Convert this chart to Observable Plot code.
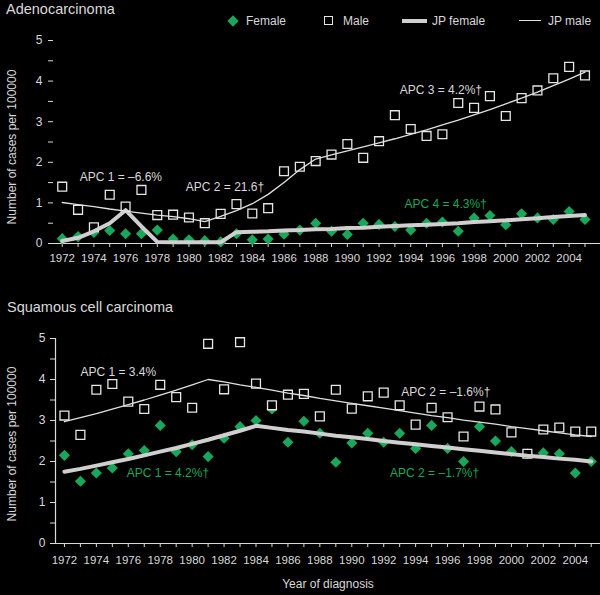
<!DOCTYPE html>
<html>
<head>
<meta charset="utf-8">
<script src="https://cdn.jsdelivr.net/npm/d3@7"></script>
<script src="https://cdn.jsdelivr.net/npm/@observablehq/plot@0.6"></script>
<style>
  body { margin: 0; background: #000; }
  #page {
    position: relative; width: 600px; height: 595px; overflow: hidden;
    background: #000; color: #d9d9d9;
    font-family: "Liberation Sans", Arial, sans-serif;
  }
  .abs { position: absolute; white-space: nowrap; }
  .title { font-size: 14.5px; line-height: 17px; }
  .leg { font-size: 12px; line-height: 16px; }
  svg { display: block; }
</style>
</head>
<body>
<div id="page">
  <div id="top" class="abs" style="left:0;top:0"></div>
  <div id="bottom" class="abs" style="left:0;top:290px"></div>
  <div class="abs title" style="left:6px;top:1px">Adenocarcinoma</div>
  <div class="abs title" style="left:7px;top:299px">Squamous cell carcinoma</div>
  <div class="abs" style="left:229px;top:17px;width:8px;height:8px;background:#19a75b;transform:rotate(45deg)"></div>
  <div class="abs leg" style="left:246px;top:13px">Female</div>
  <div class="abs" style="left:324px;top:16px;width:9px;height:9px;box-sizing:border-box;border:1.3px solid #e6e6e6"></div>
  <div class="abs leg" style="left:343px;top:13px">Male</div>
  <div class="abs" style="left:402px;top:19px;width:25px;height:4px;background:#cfcfcf"></div>
  <div class="abs leg" style="left:432px;top:13px">JP female</div>
  <div class="abs" style="left:519px;top:20px;width:22px;height:1.3px;background:#e0e0e0"></div>
  <div class="abs leg" style="left:548px;top:13px">JP male</div>
</div>
<script>
const GREEN = "#19a75b";
const TEXT = "#d9d9d9";

const years = [1972, 1973, 1974, 1975, 1976, 1977, 1978, 1979, 1980, 1981, 1982, 1983,
  1984, 1985, 1986, 1987, 1988, 1989, 1990, 1991, 1992, 1993, 1994, 1995, 1996, 1997,
  1998, 1999, 2000, 2001, 2002, 2003, 2004, 2005];
const yMajor = [0, 1, 2, 3, 4, 5];
const yMinor = [0.5, 1.5, 2.5, 3.5, 4.5];

// Adenocarcinoma, rates per 100000
const adenoFemale = [0.12, 0.17, 0.27, 0.32, 0.24, 0.24, 0.33, 0.11, 0.09, 0.07, 0.04, 0.24,
  0.09, 0.11, 0.23, 0.33, 0.50, 0.30, 0.22, 0.50, 0.47, 0.42, 0.33, 0.50, 0.53, 0.30,
  0.63, 0.69, 0.46, 0.73, 0.63, 0.59, 0.79, 0.59];
const adenoMale = [1.40, 0.83, 0.40, 1.20, 0.91, 1.32, 0.70, 0.71, 0.64, 0.50, 0.73, 0.97,
  0.74, 0.87, 1.78, 1.89, 2.03, 2.19, 2.45, 2.11, 2.52, 3.16, 2.82, 2.65, 2.69, 3.46,
  3.34, 3.63, 3.14, 3.58, 3.77, 4.07, 4.35, 4.14];
const adenoJpFemale = [0.06, 0.14, 0.30, 0.50, 0.82, 0.42, 0.04, 0.03, 0.03, 0.03, 0.03, 0.28,
  0.29, 0.30, 0.32, 0.33, 0.35, 0.36, 0.38, 0.39, 0.41, 0.43, 0.45, 0.46, 0.48, 0.50,
  0.53, 0.55, 0.57, 0.60, 0.62, 0.65, 0.68, 0.70];
const adenoJpMale = [1.01, 0.96, 0.91, 0.85, 0.80, 0.75, 0.70, 0.66, 0.61, 0.54, 0.67, 0.81,
  0.98, 1.21, 1.50, 1.82, 2.08, 2.18, 2.28, 2.38, 2.48, 2.58, 2.69, 2.80, 2.92, 3.04,
  3.17, 3.30, 3.44, 3.58, 3.73, 3.89, 4.05, 4.22];

// Squamous cell carcinoma
const sqFemale = [2.15, 1.52, 1.72, 1.84, 2.19, 2.27, 2.88, 2.24, 2.41, 2.12, 2.57, 2.85,
  3.00, 3.28, 2.47, 2.98, 2.69, 1.98, 2.45, 2.69, 2.47, 2.69, 2.32, 2.88, 2.32, 2.00,
  2.85, 2.50, 2.24, 2.19, 2.21, 2.19, 1.72, 2.00];
const sqMale = [3.12, 2.65, 3.75, 3.89, 3.46, 3.28, 3.87, 3.57, 3.31, 4.87, 3.76, 4.91,
  3.90, 3.37, 3.63, 3.65, 3.10, 3.75, 3.29, 3.59, 3.68, 3.37, 2.90, 3.31, 3.08, 2.61,
  3.34, 3.27, 2.71, 2.19, 2.78, 2.83, 2.73, 2.73];
const sqJpFemale = [1.75, 1.82, 1.90, 1.98, 2.06, 2.15, 2.24, 2.33, 2.43, 2.53, 2.64, 2.75,
  2.87, 2.82, 2.77, 2.73, 2.68, 2.63, 2.59, 2.55, 2.50, 2.46, 2.42, 2.38, 2.34, 2.30,
  2.26, 2.22, 2.18, 2.14, 2.11, 2.07, 2.04, 2.00];
const sqJpMale = [2.97, 3.07, 3.17, 3.28, 3.39, 3.50, 3.62, 3.74, 3.87, 4.00, 3.94, 3.87,
  3.81, 3.74, 3.67, 3.61, 3.54, 3.48, 3.42, 3.36, 3.30, 3.24, 3.18, 3.12, 3.07, 3.01,
  2.96, 2.91, 2.85, 2.80, 2.75, 2.70, 2.65, 2.61];

// APC annotations: [year, rate, label, is female]
const adenoNotes = [
  [1973.1, 1.63, "APC 1 = \u20136.6%", false],
  [1979.8, 1.38, "APC 2 = 21.6\u2020", false],
  [1993.3, 3.78, "APC 3 = 4.2%\u2020", false],
  [1993.6, 0.96, "APC 4 = 4.3%\u2020", true]
];
const sqNotes = [
  [1973.0, 4.17, "APC 1 = 3.4%", false],
  [1975.9, 1.71, "APC 1 = 4.2%\u2020", true],
  [1993.1, 3.68, "APC 2 = \u20131.6%\u2020", false],
  [1992.4, 1.71, "APC 2 = \u20131.7%\u2020", true]
];

function panel(o) {
  const rows = years.map((year, i) => ({
    year, female: o.female[i], male: o.male[i], jpFemale: o.jpFemale[i], jpMale: o.jpMale[i]
  }));
  const notes = o.notes.map(([year, value, text, fem]) => ({year, value, text, fem}));
  return Plot.plot({
    width: 600,
    height: o.height,
    marginLeft: o.marginLeft,
    marginRight: 0,
    marginTop: o.marginTop,
    marginBottom: o.marginBottom,
    x: {domain: o.xDomain, axis: null},
    y: {domain: [0, 5], axis: null},
    style: {
      background: "#000",
      color: TEXT,
      fontFamily: '"Liberation Sans", Arial, sans-serif',
      fontSize: "11.5px"
    },
    marks: [
      Plot.ruleY([0], {stroke: TEXT, strokeWidth: 1.2}),
      o.yLine ? Plot.ruleX([o.xDomain[0]], {stroke: TEXT, strokeWidth: 1.2}) : null,
      Plot.axisY(yMajor, {tickSize: 5, tickPadding: o.yPad, dx: o.yDx, fontSize: 12, label: null}),
      Plot.axisY(yMinor, {tickSize: 5, dx: o.yDx, tickFormat: () => "", label: null}),
      Plot.axisX(years, {
        tickSize: 4, tickPadding: o.xPad, label: null,
        tickFormat: d => d % 2 === 0 ? String(d) : ""
      }),
      Plot.dot(rows, {x: "year", y: "female", symbol: "diamond2", r: 5, fill: GREEN, stroke: "none"}),
      Plot.dot(rows, {x: "year", y: "male", symbol: "square", r: 5, fill: "#000", stroke: "#e6e6e6", strokeWidth: 1.3}),
      Plot.line(rows, {x: "year", y: "jpFemale", stroke: "#cfcfcf", strokeWidth: 4}),
      Plot.line(rows, {x: "year", y: "jpMale", stroke: "#e0e0e0", strokeWidth: 1.3}),
      Plot.text(notes, {
        x: "year", y: "value", text: "text", textAnchor: "start",
        fill: d => d.fem ? GREEN : TEXT, fontSize: 12
      }),
      Plot.text(["Number of cases per 100000"], {
        frameAnchor: "left", textAnchor: "middle", rotate: -90,
        dx: o.labelDx, dy: o.labelDy, fontSize: 12, fill: TEXT
      }),
      o.xLabel ? Plot.text([o.xLabel], {frameAnchor: "bottom", textAnchor: "middle", dy: 44, fontSize: 12, fill: TEXT}) : null
    ]
  });
}

document.getElementById("top").append(panel({
  height: 290, marginTop: 40, marginBottom: 47, marginLeft: 50,
  xDomain: [1971.26, 2005.98],
  female: adenoFemale, male: adenoMale, jpFemale: adenoJpFemale, jpMale: adenoJpMale,
  notes: adenoNotes, yLine: false, yDx: 3, yPad: 6, xPad: 6, labelDx: -38, labelDy: 5
}));

document.getElementById("bottom").append(panel({
  height: 305, marginTop: 48, marginBottom: 52, marginLeft: 55,
  xDomain: [1971.44, 2005.58],
  female: sqFemale, male: sqMale, jpFemale: sqJpFemale, jpMale: sqJpMale,
  notes: sqNotes, yLine: true, yDx: 0, yPad: 5, xPad: 8, labelDx: -43, labelDy: 3,
  xLabel: "Year of diagnosis"
}));
</script>
</body>
</html>
